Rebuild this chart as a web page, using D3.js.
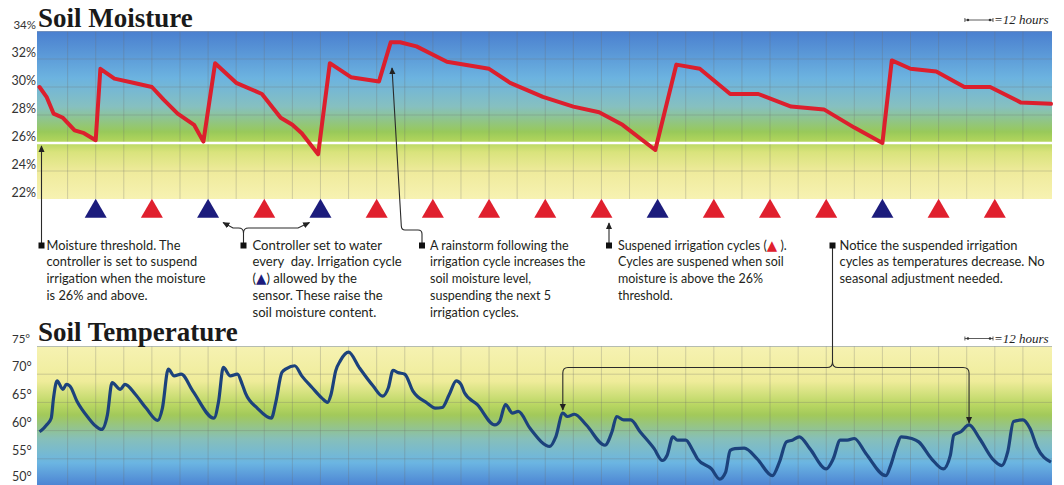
<!DOCTYPE html>
<html>
<head>
<meta charset="utf-8">
<script src="https://cdn.jsdelivr.net/npm/d3@7"></script>
<style>
  body { margin: 0; background: #fff; }
  svg { display: block; font-family: Lato, "Open Sans", sans-serif; }
  .note text { white-space: pre; }
</style>
</head>
<body>
<svg id="chart" width="1064" height="485"></svg>
<script>
// soil moisture, hours from start of record / percent
const moistureHours = [0, 3, 6, 10, 15, 19, 24, 26, 32, 40, 48, 53, 59, 66, 70, 75, 84, 95, 103, 108, 112, 119, 124, 133, 145, 150, 154, 161, 174, 192, 201, 215, 228, 239, 249, 263, 272, 282, 295, 307, 321, 335, 348, 360, 364, 372, 383, 395, 406, 419, 432];
const moistureValues = [30.0, 29.3, 28.1, 27.8, 26.9, 26.7, 26.2, 31.3, 30.6, 30.3, 30.0, 29.1, 28.1, 27.3, 26.1, 31.7, 30.3, 29.5, 27.8, 27.3, 26.7, 25.2, 31.7, 30.7, 30.4, 33.2, 33.2, 32.9, 31.8, 31.3, 30.3, 29.3, 28.6, 28.2, 27.3, 25.5, 31.6, 31.3, 29.5, 29.5, 28.6, 28.4, 27.1, 26.0, 31.9, 31.3, 31.1, 30.0, 30.0, 28.9, 28.8];

// soil temperature, hours / degrees F
const tempHours = [0, 1, 3, 5, 6, 7.5, 10, 11.5, 13, 16, 21, 24, 26.5, 29, 31, 34.5, 36.5, 41, 45.5, 50.5, 52.5, 55, 57.5, 60.5, 65.5, 74.5, 76.5, 78.5, 81.5, 84.5, 86.5, 88, 93, 99, 101, 103.5, 105.5, 109, 112, 116.5, 120.5, 123, 124.5, 126.5, 128.5, 132, 136.5, 142.5, 146.5, 149, 151, 153, 156, 159.5, 165.5, 169, 172, 175, 178, 180, 181.5, 187, 194.5, 196.5, 199, 202, 204.5, 209.5, 218, 220.5, 223.5, 225.5, 228.5, 233.5, 241.5, 244.5, 246.5, 249.5, 252.5, 256.5, 262.5, 266, 268, 270.5, 272.5, 276, 279, 281, 287, 290.5, 293, 295, 297, 301, 306.5, 313, 316, 319, 321.5, 324.5, 329, 336, 339, 342, 345, 348, 353, 361.5, 363.5, 366, 368, 372.5, 375.5, 381, 386, 389, 390.5, 393.5, 397, 401.5, 407, 411, 413.5, 416, 420, 423, 426, 432];
const tempValues = [59.8, 60.1, 61.0, 62.2, 65.8, 68.8, 67.3, 68.2, 67.9, 65.2, 62.2, 60.8, 60.2, 62.8, 68.5, 67.3, 68.2, 66.4, 64.0, 61.8, 64.0, 70.9, 69.7, 70.0, 67.0, 62.2, 65.2, 71.2, 69.7, 70.0, 68.3, 66.6, 64.0, 62.2, 65.2, 70.3, 71.0, 71.5, 69.7, 67.6, 65.8, 65.0, 66.4, 70.6, 72.4, 73.9, 71.2, 67.9, 66.1, 67.6, 70.7, 70.3, 70.0, 67.0, 64.9, 64.0, 64.1, 66.4, 68.8, 68.2, 66.7, 64.6, 61.0, 61.6, 64.6, 63.1, 63.4, 60.4, 57.2, 58.9, 63.1, 62.5, 62.9, 61.0, 57.4, 59.8, 62.5, 61.9, 61.9, 59.8, 56.8, 54.7, 55.6, 58.9, 58.3, 58.3, 56.5, 55.0, 53.2, 51.4, 52.6, 56.5, 56.8, 56.9, 55.0, 52.0, 54.4, 58.0, 58.3, 58.9, 56.8, 53.2, 55.0, 58.3, 58.3, 58.6, 55.9, 52.0, 53.8, 57.1, 58.9, 58.6, 58.0, 55.0, 53.2, 55.6, 59.2, 59.8, 61.0, 58.6, 55.0, 53.8, 56.2, 61.6, 61.9, 60.4, 57.1, 54.4];

// one irrigation cycle a day; false = suspended by the sensor
const irrigationHours = [24, 48, 72, 96, 120, 144, 168, 192, 216, 240, 264, 288, 312, 336, 360, 384, 408];
const irrigationAllowed = [true, false, true, false, true, false, false, false, false, false, true, false, false, false, true, false, false];

const moistureTicks = [22, 24, 26, 28, 30, 32, 34];
const tempTicks = [50, 55, 60, 65, 70, 75];
const threshold = 26;

const noteLines = [
  ["Moisture threshold. The", "controller is set to suspend", "irrigation when the moisture", "is 26% and above."],
  ["Controller set to water", "every  day. Irrigation cycle", "(▲) allowed by the", "sensor. These raise the", "soil moisture content."],
  ["A rainstorm following the", "irrigation cycle increases the", "soil moisture level,", "suspending the next 5", "irrigation cycles."],
  ["Suspened irrigation cycles (▲ ).", "Cycles are suspened when soil", "moisture is above the 26%", "threshold."],
  ["Notice the suspended irrigation", "cycles as temperatures decrease. No", "seasonal adjustment needed."]
];

// where each note sits: bullet x, text offset, font size, inline triangle colour
const noteLayout = [
  { bx: 41.5, dx: 5, size: 12.8 },
  { bx: 243.5, dx: 9, size: 13.1, tri: "#1c1c7c" },
  { bx: 422, dx: 8, size: 12.5 },
  { bx: 609, dx: 9, size: 12.5, tri: "#e0202e" },
  { bx: 832.5, dx: 7, size: 12.9 }
];

const svg = d3.select("#chart");
const defs = svg.append("defs");

const plotLeft = 37, plotRight = 1052;
const x = d3.scaleLinear().domain([0, 432]).range([39.5, 1051]);
const yM = d3.scaleLinear().domain([22, 34]).range([199, 31]);
const yT = d3.scaleLinear().domain([50, 75]).range([487, 346]);

function gradient(id, stops) {
  defs.append("linearGradient")
    .attr("id", id)
    .attr("x1", 0).attr("y1", 0).attr("x2", 0).attr("y2", 1)
    .selectAll("stop")
    .data(stops)
    .join("stop")
    .attr("offset", d => d[0])
    .attr("stop-color", d => d[1]);
}
gradient("gMoist", [[0, "#4a7fcf"], [0.28, "#6cb3e0"], [0.45, "#86c0c0"], [0.6, "#98c95a"], [0.66, "#b4d65c"], [0.72, "#d9e37c"], [0.84, "#efeb9c"], [1, "#f7f2b2"]]);
gradient("gTemp", [[0, "#f6f2b2"], [0.25, "#efec9a"], [0.42, "#b8d662"], [0.49, "#a2c95a"], [0.66, "#86bfba"], [0.83, "#6bb5e2"], [1, "#4a80d2"]]);

defs.append("marker")
  .attr("id", "arrow")
  .attr("viewBox", "0 0 10 10")
  .attr("refX", 9).attr("refY", 5)
  .attr("markerWidth", 7).attr("markerHeight", 7)
  .attr("markerUnits", "userSpaceOnUse")
  .attr("orient", "auto")
  .append("path")
  .attr("d", "M0,0.5 L10,5 L0,9.5 Z")
  .attr("fill", "#222");

// ---------- panel helper ----------
function panel(y, ticks, skip, grad, top, bottom, fmt, labelX, anchor, labelY) {
  const g = svg.append("g");
  g.append("rect")
    .attr("x", plotLeft).attr("y", top)
    .attr("width", plotRight - plotLeft).attr("height", bottom - top)
    .attr("fill", `url(#${grad})`);

  g.selectAll("line.v")
    .data(d3.range(12, 432, 12))
    .join("line")
    .attr("class", "v")
    .attr("x1", d => x(d)).attr("x2", d => x(d))
    .attr("y1", top).attr("y2", bottom)
    .attr("stroke", "#6a6a6a").attr("stroke-opacity", 0.28).attr("stroke-width", 1);

  g.selectAll("line.h")
    .data(ticks.filter(t => !skip.includes(t)))
    .join("line")
    .attr("class", "h")
    .attr("x1", plotLeft).attr("x2", plotRight)
    .attr("y1", d => y(d)).attr("y2", d => y(d))
    .attr("stroke", "#6a6a6a").attr("stroke-opacity", 0.28).attr("stroke-width", 1);

  g.append("line")
    .attr("x1", plotLeft).attr("x2", plotRight)
    .attr("y1", top + 0.5).attr("y2", top + 0.5)
    .attr("stroke", "#8a9ab0").attr("stroke-opacity", 0.6);

  svg.selectAll(null)
    .data(ticks)
    .join("text")
    .attr("x", labelX)
    .attr("y", labelY)
    .attr("text-anchor", anchor)
    .attr("font-size", d => d === ticks[ticks.length - 1] ? 11.5 : 12.5)
    .attr("fill", "#333")
    .text(fmt);
  return g;
}

// ---------- soil moisture ----------
panel(yM, moistureTicks, [22, 26, 34], "gMoist", yM(34), yM(22), d => d + "%", 36, "end", d => yM(d) - 2.5);

svg.append("line")
  .attr("x1", plotLeft).attr("x2", plotRight)
  .attr("y1", yM(threshold)).attr("y2", yM(threshold))
  .attr("stroke", "#fff").attr("stroke-width", 2.5);

const moistLine = d3.line()
  .x(d => x(d[0]))
  .y(d => yM(d[1]));

svg.append("path")
  .datum(d3.zip(moistureHours, moistureValues))
  .attr("d", moistLine)
  .attr("fill", "none")
  .attr("stroke", "#dc1f2d")
  .attr("stroke-width", 4)
  .attr("stroke-linejoin", "round")
  .attr("stroke-linecap", "round");

svg.selectAll("path.cycle")
  .data(d3.zip(irrigationHours, irrigationAllowed))
  .join("path")
  .attr("class", "cycle")
  .attr("transform", d => `translate(${x(d[0])},211.5)`)
  .attr("d", d3.symbol(d3.symbolTriangle, 210))
  .attr("fill", d => d[1] ? "#1c1c7c" : "#e0202e");

// ---------- soil temperature ----------
panel(yT, tempTicks, [50, 75], "gTemp", yT(75), 487, d => d + "°", 12, "start", d => Math.min(yT(d) - 3.5, 481));

svg.append("path")
  .datum(d3.zip(tempHours, tempValues))
  .attr("d", d3.line().x(d => x(d[0])).y(d => yT(d[1])).curve(d3.curveMonotoneX))
  .attr("fill", "none")
  .attr("stroke", "#1c427c")
  .attr("stroke-width", 3.2)
  .attr("stroke-linejoin", "round");

// ---------- titles and scale keys ----------
svg.selectAll("text.title")
  .data([["Soil Moisture", 27], ["Soil Temperature", 341]])
  .join("text")
  .attr("class", "title")
  .attr("x", 38).attr("y", d => d[1])
  .attr("font-family", "'Liberation Serif', 'DejaVu Serif', serif")
  .attr("font-weight", "bold")
  .attr("font-size", 27)
  .attr("fill", "#1a1a1a")
  .text(d => d[0]);

[20, 338.5].forEach(ky => {
  const x0 = 993 - (x(12) - x(0));
  const key = svg.append("g");
  key.append("line")
    .attr("x1", x0).attr("x2", 993).attr("y1", ky).attr("y2", ky)
    .attr("stroke", "#333").attr("stroke-width", 0.8);
  key.selectAll("line.tick")
    .data([x0, 993])
    .join("line")
    .attr("x1", d => d).attr("x2", d => d)
    .attr("y1", ky - 2).attr("y2", ky + 2)
    .attr("stroke", "#333").attr("stroke-width", 0.8);
  key.selectAll("circle")
    .data([x0 + 3, 990])
    .join("circle")
    .attr("cx", d => d).attr("cy", ky).attr("r", 1.3)
    .attr("fill", "#333");
  key.append("text")
    .attr("x", 994).attr("y", ky + 4)
    .attr("font-family", "'Liberation Serif', serif")
    .attr("font-style", "italic")
    .attr("font-size", 13)
    .attr("fill", "#222")
    .text("=12 hours");
});

// ---------- annotations ----------
const lead = [
  `M41.5,243 V${yM(threshold) + 3}`,
  `M243.5,243 V233 Q243.5,228 238.5,228 H233 L${x(72) + 15},222.5`,
  `M243.5,233 Q243.5,228 248.5,228 H298 L${x(120) - 11},222.5`,
  "M422,243 V234 Q422,230 418,230 H405 Q401.5,230 401.3,226 L392,68",
  `M609,243 V223`,
  `M832.5,248 V362 Q832.5,367.5 827,367.5 H568 Q${x(223.5)},367.5 ${x(223.5)},373 V${yT(63.1) - 3}`,
  `M832.5,362 Q832.5,367.5 838,367.5 H963 Q${x(397)},367.5 ${x(397)},373 V${yT(61.0) - 2}`
];

svg.selectAll("path.lead")
  .data(lead)
  .join("path")
  .attr("class", "lead")
  .attr("d", d => d)
  .attr("fill", "none")
  .attr("stroke", "#2a2a2a")
  .attr("stroke-width", 1.1)
  .attr("marker-end", "url(#arrow)");

const note = svg.selectAll("g.note")
  .data(d3.zip(noteLines, noteLayout))
  .join("g")
  .attr("class", "note");

note.append("rect")
  .attr("x", d => d[1].bx - 3).attr("y", 242.5)
  .attr("width", 6).attr("height", 6)
  .attr("fill", "#111");

note.each(function ([lines, lay]) {
  const t = d3.select(this).append("text")
    .attr("font-size", lay.size)
    .attr("fill", "#231f20");
  lines.forEach((line, i) => {
    const parts = line.split("▲");
    parts.forEach((p, j) => {
      const s = t.append("tspan").text(p);
      if (j === 0) s.attr("x", lay.bx + lay.dx).attr("y", 249.5 + i * 16.9);
      if (j < parts.length - 1) {
        t.append("tspan").attr("fill", lay.tri).attr("font-family", "'DejaVu Sans', sans-serif").attr("font-size", 13.5).text("▲");
      }
    });
  });
});
</script>
</body>
</html>
